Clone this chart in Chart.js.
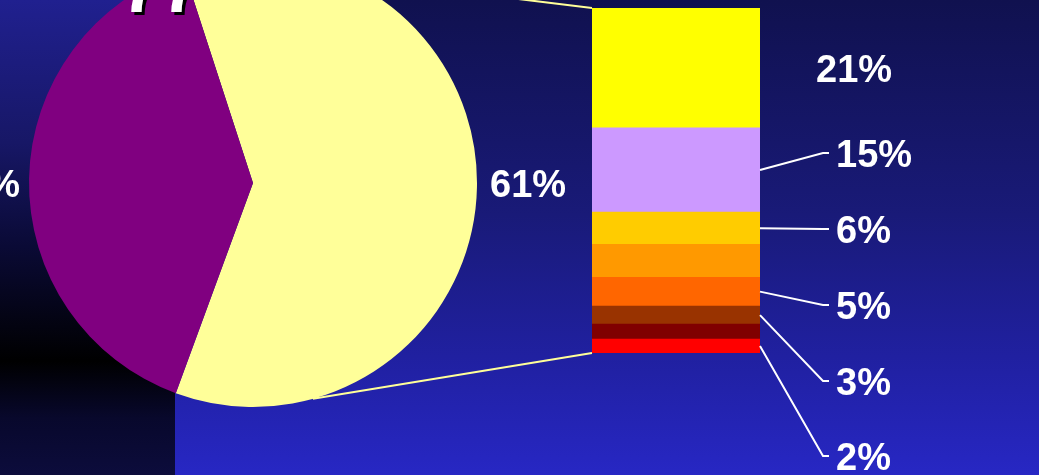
<!DOCTYPE html>
<html>
<head>
<meta charset="utf-8">
<script src="https://cdn.jsdelivr.net/npm/chart.js@4.4.1/dist/chart.umd.min.js"></script>
<style>
html, body { margin: 0; padding: 0; width: 1039px; height: 475px; overflow: hidden; }
body {
    position: relative;
    background: linear-gradient(to bottom, #10114f 0%, #191a78 45%, #2020a0 75%, #2727c4 100%);
    font-family: "Liberation Sans", Arial, sans-serif;
}
#franja {
    position: absolute; left: 0; top: 0; width: 175px; height: 475px;
    background: linear-gradient(to bottom, #20208f 0%, #171766 30%, #0a0a35 52%, #000000 76%, #08082c 88%, #0c0c3c 100%);
}
.lienzo { position: absolute; left: 0; top: -60px; width: 1039px; height: 535px; }
#titulo {
    position: absolute; left: 121px; top: -49px;
    font-size: 72px; line-height: 72px; font-weight: bold; color: #fff;
    text-shadow: 3px 3px 0 #000; z-index: 5; white-space: nowrap;
}
</style>
</head>
<body>
<div id="franja"></div>
<div class="lienzo"><canvas id="graficoTorta"></canvas></div>
<div class="lienzo"><canvas id="graficoBarra"></canvas></div>
<div id="titulo">77</div>
<script>
// Datos de la torta
const categoriasTorta = ["Resto", "Otros"];
const valoresTorta = [60.6, 39.4];
const coloresTorta = ['#ffff99', '#800080'];

// Desglose de la barra (de arriba hacia abajo)
const valoresBarra = [21.2, 14.9, 5.7, 5.8, 5.1, 3.2, 2.65, 2.45];
const coloresBarra = ['#ffff00', '#cc99ff', '#ffcc00', '#ff9900', '#ff6600', '#993300', '#800000', '#ff0000'];
const conEtiqueta = [true, true, true, false, true, true, false, true];

// Posiciones de las etiquetas de la barra (px desde el borde superior de la barra)
const ranurasEtiquetas = [60, 145, 221, 297, 373, 448];

const fuente = 'bold 38px "Liberation Sans", Arial, sans-serif';
Chart.defaults.devicePixelRatio = 1;

// Etiquetas de la torta
const etiquetasTorta = {
    id: 'etiquetasTorta',
    afterDraw(chart) {
        const arco = chart.getDatasetMeta(0).data[0];
        const ctx = chart.ctx;
        const total = valoresTorta.reduce((a, b) => a + b, 0);
        ctx.save();
        ctx.font = fuente;
        ctx.fillStyle = '#ffffff';
        ctx.textBaseline = 'alphabetic';
        ctx.textAlign = 'left';
        ctx.fillText(Math.round(valoresTorta[0] / total * 100) + '%', arco.x + arco.outerRadius + 13, arco.y + 14);
        ctx.textAlign = 'right';
        ctx.fillText(Math.round(valoresTorta[1] / total * 100) + '%', arco.x - arco.outerRadius - 9, arco.y + 14);
        ctx.restore();
    }
};

const torta = new Chart(document.getElementById('graficoTorta'), {
    type: 'pie',
    data: {
        labels: categoriasTorta,
        datasets: [{ data: valoresTorta, backgroundColor: coloresTorta, borderWidth: 0 }]
    },
    options: {
        responsive: true,
        maintainAspectRatio: false,
        animation: false,
        rotation: -18,
        layout: { padding: { left: 29, right: 562, top: 19, bottom: 68 } },
        plugins: { legend: { display: false }, tooltip: { enabled: false } }
    },
    plugins: [etiquetasTorta]
});

// Conectores y etiquetas de la barra
const conectores = {
    id: 'conectores',
    afterDraw(chart) {
        const ctx = chart.ctx;
        const area = chart.chartArea;
        const arco = torta.getDatasetMeta(0).data[0];
        const punto = (grados) => {
            const a = grados * Math.PI / 180;
            return [arco.x + arco.outerRadius * Math.sin(a), arco.y - arco.outerRadius * Math.cos(a)];
        };
        ctx.save();
        // lineas amarillas hacia la torta
        ctx.strokeStyle = '#ffff99';
        ctx.lineWidth = 2;
        const p1 = punto(23.5), p2 = punto(164.5);
        ctx.beginPath();
        ctx.moveTo(area.left, area.top); ctx.lineTo(p1[0], p1[1]);
        ctx.moveTo(area.left, area.bottom); ctx.lineTo(p2[0], p2[1]);
        ctx.stroke();

        // etiquetas con lineas guia
        ctx.strokeStyle = '#ffffff';
        ctx.fillStyle = '#ffffff';
        ctx.font = fuente;
        ctx.textBaseline = 'alphabetic';
        ctx.textAlign = 'left';
        const n = valoresBarra.length;
        let r = 0;
        valoresBarra.forEach((v, i) => {
            if (!conEtiqueta[i]) return;
            const barra = chart.getDatasetMeta(n - 1 - i).data[0];
            const yc = (barra.y + barra.base) / 2;
            const ys = area.top + ranurasEtiquetas[r];
            const texto = Math.round(v) + '%';
            if (r === 0) {
                ctx.fillText(texto, area.right + 56, ys + 14);
            } else {
                ctx.beginPath();
                ctx.moveTo(area.right, yc);
                ctx.lineTo(area.right + 63, ys);
                ctx.lineTo(area.right + 69, ys);
                ctx.stroke();
                ctx.fillText(texto, area.right + 76, ys + 14);
            }
            r++;
        });
        ctx.restore();
    }
};

const datasetsBarra = valoresBarra.map((v, i) => ({
    data: [v],
    backgroundColor: coloresBarra[i],
    borderWidth: 0,
    barPercentage: 1,
    categoryPercentage: 1
})).reverse();

new Chart(document.getElementById('graficoBarra'), {
    type: 'bar',
    data: { labels: [''], datasets: datasetsBarra },
    options: {
        responsive: true,
        maintainAspectRatio: false,
        animation: false,
        layout: { padding: { left: 592, right: 279, top: 68, bottom: 122 } },
        scales: {
            x: { stacked: true, display: false },
            y: { stacked: true, display: false, min: 0, max: 61 }
        },
        plugins: { legend: { display: false }, tooltip: { enabled: false } }
    },
    plugins: [conectores]
});
</script>
</body>
</html>
